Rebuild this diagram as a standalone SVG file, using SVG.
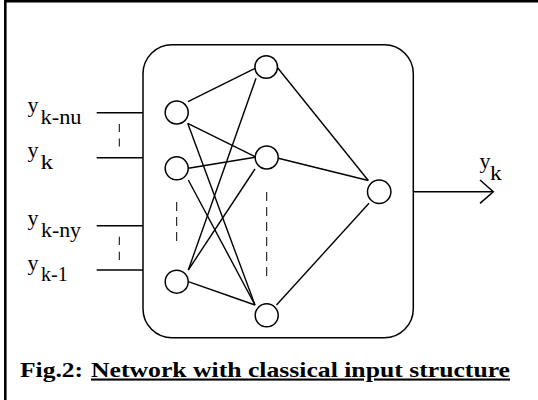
<svg xmlns="http://www.w3.org/2000/svg" width="538" height="400" viewBox="0 0 538 400">
<style>
.lbl{font-family:"Liberation Serif","Times New Roman",serif;font-size:22px;fill:#000}
.sub{font-size:20px}
.ttl{font-family:"Liberation Serif","Times New Roman",serif;font-size:21px;font-weight:bold;fill:#000}
.node{fill:#fff;stroke:#000;stroke-width:1.5}
.edge{stroke:#000;stroke-width:1.4;fill:none}
.dash{stroke:#000;stroke-width:1;fill:none}
</style>
<defs>
<marker id="arr" markerUnits="userSpaceOnUse" viewBox="-16 -14 20 28" markerWidth="20" markerHeight="28" refX="0" refY="0" orient="auto">
<path d="M-13.3,-11.7 L0,0 L-13.3,11.7" fill="none" stroke="#000" stroke-width="1.5" stroke-linejoin="miter"/>
</marker>
</defs>
<rect width="538" height="400" fill="#fff"/>
<path d="M5.3,400 V1.3 H538" fill="none" stroke="#000" stroke-width="2.6"/>
<g id="network-box">
<rect x="143" y="44.7" width="270.3" height="293" rx="29" ry="29" fill="none" stroke="#000" stroke-width="1.5"/>
</g>
<g id="connectors">
<line class="edge" x1="96.7" y1="112.7" x2="143" y2="112.7"/>
<line class="edge" x1="96.7" y1="157.7" x2="143" y2="157.7"/>
<line class="edge" x1="96.7" y1="225.7" x2="143" y2="225.7"/>
<line class="edge" x1="96.7" y1="270" x2="143" y2="270"/>
<line class="dash" x1="119.3" y1="124" x2="119.3" y2="146.7" stroke-dasharray="8 6.5"/>
<line class="dash" x1="119.3" y1="236.7" x2="119.3" y2="260" stroke-dasharray="8.3 6.7"/>
<line class="dash" x1="176.7" y1="202" x2="176.7" y2="241" stroke-dasharray="9 6"/>
<line class="dash" x1="266.7" y1="192" x2="266.7" y2="277" stroke-dasharray="9 6"/>
<line class="edge" x1="188" y1="101.7" x2="255" y2="68.3"/>
<line class="edge" x1="187.7" y1="123.3" x2="255" y2="156.7"/>
<line class="edge" x1="187.7" y1="123.3" x2="255" y2="305"/>
<line class="edge" x1="188.3" y1="168.3" x2="255" y2="157.3"/>
<line class="edge" x1="188.3" y1="180" x2="255" y2="305"/>
<line class="edge" x1="188.3" y1="270" x2="256" y2="78.3"/>
<line class="edge" x1="188.3" y1="270" x2="255" y2="169"/>
<line class="edge" x1="188.3" y1="281.7" x2="255" y2="305"/>
<line class="edge" x1="277.8" y1="68" x2="368.3" y2="180.5"/>
<line class="edge" x1="278.3" y1="158.3" x2="368.3" y2="180.5"/>
<line class="edge" x1="276.5" y1="305" x2="369" y2="203.3"/>
<line class="edge" x1="413.3" y1="191.7" x2="493.3" y2="191.7" marker-end="url(#arr)"/>
</g>
<g id="input-1"><circle class="node" cx="176.7" cy="112.5" r="11.5"/></g>
<g id="input-2"><circle class="node" cx="176.7" cy="168.3" r="11.5"/></g>
<g id="input-3"><circle class="node" cx="176.7" cy="281.7" r="11.5"/></g>
<g id="hidden-1"><circle class="node" cx="266.2" cy="67" r="11.3"/></g>
<g id="hidden-2"><circle class="node" cx="266.7" cy="157.5" r="11.5"/></g>
<g id="hidden-3"><circle class="node" cx="266.7" cy="315.3" r="11.5"/></g>
<g id="output"><circle class="node" cx="379.2" cy="191.7" r="11.7"/></g>
<g id="labels">
<text class="lbl" x="27.5" y="112">y<tspan class="sub" x="40.5" y="123.5" textLength="41" lengthAdjust="spacingAndGlyphs">k-nu</tspan></text>
<text class="lbl" x="27.5" y="157">y<tspan class="sub" x="40.5" y="168.5" textLength="12.6" lengthAdjust="spacingAndGlyphs">k</tspan></text>
<text class="lbl" x="27.5" y="225">y<tspan class="sub" x="41" y="236.5" textLength="40" lengthAdjust="spacingAndGlyphs">k-ny</tspan></text>
<text class="lbl" x="27.5" y="269.5">y<tspan class="sub" x="41" y="281" textLength="26.7" lengthAdjust="spacingAndGlyphs">k-1</tspan></text>
<text class="lbl" x="479.5" y="168">y<tspan class="sub" x="490" y="179.5" textLength="11.7" lengthAdjust="spacingAndGlyphs">k</tspan></text>
</g>
<g id="caption">
<text class="ttl" x="20" y="376.5" textLength="63" lengthAdjust="spacingAndGlyphs">Fig.2:</text>
<text class="ttl" x="91" y="376.5" textLength="419" lengthAdjust="spacingAndGlyphs" style="text-decoration:underline;text-decoration-thickness:2.5px;text-underline-offset:3px">Network with classical input structure</text>
</g>
</svg>
